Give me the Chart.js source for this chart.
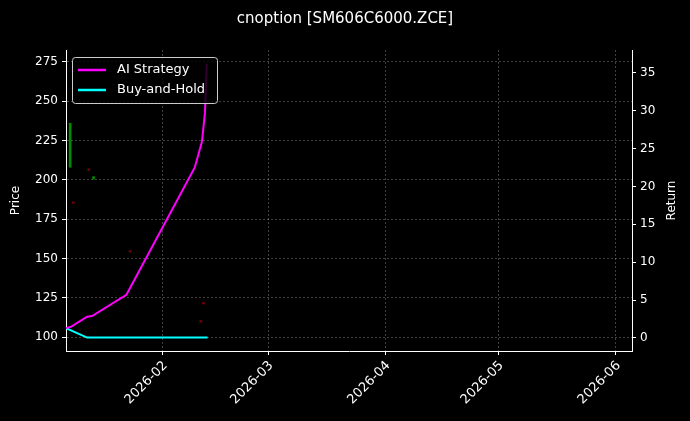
<!DOCTYPE html>
<html>
<head>
<meta charset="utf-8">
<script src="https://cdn.jsdelivr.net/npm/chart.js@4"></script>
<style>
  html, body { margin: 0; padding: 0; background: #000; }
  #wrap { width: 690px; height: 421px; }
</style>
</head>
<body>
<div id="wrap"><canvas id="c"></canvas></div>
<script>
// x values are day-of-year 2026 (Jan 1 = 0)
const tickDays = [31, 59, 90, 120, 151];
const tickLabels = ['2026-02', '2026-03', '2026-04', '2026-05', '2026-06'];

const aiDays = [5.6, 7, 11.2, 12.5, 21.6, 39.7, 41.6, 42.4, 42.9];
const aiReturn = [1.3, 1.5, 2.8, 2.9, 5.7, 22.5, 25.9, 29.7, 36.2];

const bhDays = [5.6, 11.2, 43.1];
const bhReturn = [1.3, 0.05, 0.05];

// candles: day, low, high, up?
const candleDays = [6.7, 7.5, 11.6, 12.9, 22.6, 41.3, 42.0];
const candleLow = [208, 185, 206, 200.5, 154, 109.5, 121];
const candleHigh = [236, 186, 207, 202, 155, 110.5, 122];
const candleUp = [true, false, false, true, false, false, false];

const FONT = '"DejaVu Sans"';

const extras = {
  id: 'extras',
  beforeDatasetsDraw(chart) {
    const { ctx, chartArea } = chart;
    const xs = chart.scales.x;
    ctx.save();
    tickDays.forEach(d => {
      const px = Math.round(xs.getPixelForValue(d)) + 0.5;
      ctx.strokeStyle = 'rgba(255,255,255,0.25)';
      ctx.setLineDash([2, 2]);
      ctx.beginPath(); ctx.moveTo(px, chartArea.top); ctx.lineTo(px, chartArea.bottom); ctx.stroke();
      ctx.strokeStyle = '#ffffff';
      ctx.setLineDash([]);
      ctx.beginPath(); ctx.moveTo(px, chartArea.bottom); ctx.lineTo(px, chartArea.bottom + 4); ctx.stroke();
    });
    ctx.restore();
  },
  afterDraw(chart) {
    const { ctx, chartArea } = chart;
    ctx.save();
    // legend
    const x = chartArea.left + 6, y = chartArea.top + 7;
    ctx.fillStyle = 'rgba(0,0,0,0.8)';
    ctx.strokeStyle = '#cccccc';
    ctx.lineWidth = 1;
    ctx.beginPath();
    ctx.roundRect(x + 0.5, y + 0.5, 145, 46, 3);
    ctx.fill(); ctx.stroke();
    const items = [['AI Strategy', '#ff00ff'], ['Buy-and-Hold', '#00ffff']];
    ctx.font = '13px ' + FONT;
    ctx.textBaseline = 'middle';
    items.forEach((it, i) => {
      const yy = y + 13 + i * 20;
      ctx.strokeStyle = it[1];
      ctx.lineWidth = 2.5;
      ctx.beginPath(); ctx.moveTo(x + 6, yy); ctx.lineTo(x + 34, yy); ctx.stroke();
      ctx.fillStyle = '#ffffff';
      ctx.fillText(it[0], x + 45, yy);
    });
    // rotated x tick labels, right-aligned to tick
    const xs = chart.scales.x;
    ctx.font = '13px ' + FONT;
    ctx.textAlign = 'right';
    ctx.textBaseline = 'top';
    tickDays.forEach((d, i) => {
      const px = xs.getPixelForValue(d);
      ctx.save();
      ctx.translate(px - 1, chartArea.bottom + 8);
      ctx.rotate(-Math.PI / 4);
      ctx.fillText(tickLabels[i], 0, 0);
      ctx.restore();
    });
    // axis titles, bottom-to-top
    ctx.font = '12px ' + FONT;
    [['Price', 16], ['Return', 672]].forEach(([t, tx]) => {
      ctx.save();
      ctx.translate(tx, (chartArea.top + chartArea.bottom) / 2);
      ctx.rotate(-Math.PI / 2);
      ctx.textAlign = 'center';
      ctx.textBaseline = 'middle';
      ctx.fillText(t, 0, 0);
      ctx.restore();
    });
    ctx.restore();
  }
};

new Chart(document.getElementById('c'), {
  data: {
    datasets: [
      {
        type: 'bar',
        label: 'candles',
        yAxisID: 'y',
        data: candleDays.map((d, i) => ({ x: d, y: [candleLow[i], candleHigh[i]] })),
        backgroundColor: candleUp.map(u => u ? 'rgba(0,200,0,0.7)' : 'rgba(200,0,0,0.6)'),
        barThickness: 2,
        grouped: false,
        order: 3
      },
      {
        type: 'line',
        label: 'AI Strategy',
        yAxisID: 'y2',
        data: aiDays.map((d, i) => ({ x: d, y: aiReturn[i] })),
        borderColor: '#ff00ff',
        borderWidth: 2,
        pointRadius: 0,
        tension: 0,
        order: 1
      },
      {
        type: 'line',
        label: 'Buy-and-Hold',
        yAxisID: 'y2',
        data: bhDays.map((d, i) => ({ x: d, y: bhReturn[i] })),
        borderColor: '#00ffff',
        borderWidth: 2,
        pointRadius: 0,
        tension: 0,
        order: 2
      }
    ]
  },
  options: {
    responsive: true,
    maintainAspectRatio: false,
    animation: false,
    layout: { padding: 0 },
    plugins: {
      legend: { display: false },
      tooltip: { enabled: false },
      title: {
        display: true,
        text: 'cnoption [SM606C6000.ZCE]',
        color: '#ffffff',
        font: { family: 'DejaVu Sans', size: 15, weight: 'normal' },
        padding: { top: 10, bottom: 22 }
      }
    },
    scales: {
      x: {
        type: 'linear',
        min: 5.6,
        max: 155.5,
        offset: false,
        afterFit: s => { s.height = 70; },
        ticks: { display: false },
        grid: { display: false },
        border: { color: '#ffffff' }
      },
      y: {
        position: 'left',
        min: 91.1,
        max: 282.6,
        afterBuildTicks: s => { s.ticks = [100, 125, 150, 175, 200, 225, 250, 275].map(v => ({ value: v })); },
        afterFit: s => { s.width = 66; },
        ticks: { color: '#ffffff', font: { family: 'DejaVu Sans', size: 12 }, padding: 4 },
        grid: { color: 'rgba(255,255,255,0.25)', tickColor: '#ffffff', tickLength: 4 },
        border: { color: '#ffffff', dash: [2, 2] }
      },
      y2: {
        position: 'right',
        min: -1.72,
        max: 38.0,
        afterBuildTicks: s => { s.ticks = [0, 5, 10, 15, 20, 25, 30, 35].map(v => ({ value: v })); },
        afterFit: s => { s.width = 58; },
        ticks: { color: '#ffffff', font: { family: 'DejaVu Sans', size: 12 }, padding: 4 },
        grid: { drawOnChartArea: false, tickColor: '#ffffff', tickLength: 4 },
        border: { color: '#ffffff' }
      }
    }
  },
  plugins: [extras]
});
</script>
</body>
</html>
